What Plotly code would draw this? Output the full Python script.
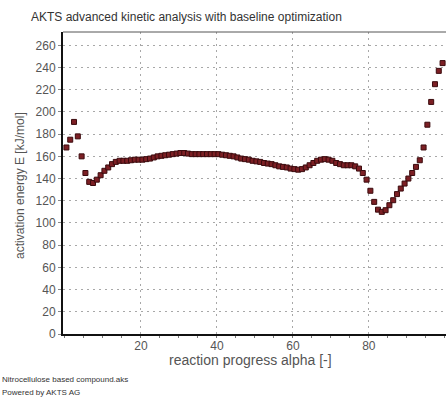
import plotly.graph_objects as go

# Reaction progress (alpha, %) and the activation energy E (kJ/mol) at each step
alpha = [
    0.4, 1.4, 2.4, 3.4, 4.4, 5.4, 6.4, 7.4, 8.4, 9.4,
    10.4, 11.4, 12.4, 13.4, 14.4, 15.4, 16.4, 17.4, 18.4, 19.4,
    20.4, 21.4, 22.4, 23.4, 24.4, 25.4, 26.4, 27.4, 28.4, 29.4,
    30.4, 31.4, 32.4, 33.4, 34.4, 35.4, 36.4, 37.4, 38.4, 39.4,
    40.4, 41.4, 42.4, 43.4, 44.4, 45.4, 46.4, 47.4, 48.4, 49.4,
    50.4, 51.4, 52.4, 53.4, 54.4, 55.4, 56.4, 57.4, 58.4, 59.4,
    60.4, 61.4, 62.4, 63.4, 64.4, 65.4, 66.4, 67.4, 68.4, 69.4,
    70.4, 71.4, 72.4, 73.4, 74.4, 75.4, 76.4, 77.4, 78.4, 79.4,
    80.4, 81.4, 82.4, 83.4, 84.4, 85.4, 86.4, 87.4, 88.4, 89.4,
    90.4, 91.4, 92.4, 93.4, 94.4, 95.4, 96.4, 97.4, 98.4, 99.4,
]
energy = [
    168, 175, 191, 178, 160, 145, 137, 136, 139, 143,
    147, 150, 153, 155, 156, 156, 156, 156.5, 157, 157,
    157, 157.5, 158, 159, 160, 160.5, 161, 161.5, 162, 162.5,
    163, 163, 162.5, 162, 162, 162, 162, 162, 162, 162,
    162, 161.5, 161, 160.5, 160, 159, 158, 157.5, 157, 156,
    155.5, 155, 154, 153.5, 153, 152, 151, 150.5, 150, 149,
    148.5, 148, 148.5, 150, 152, 154, 156, 157, 157.5, 157,
    156, 154, 153, 152, 152, 152, 151, 149, 145, 139,
    129, 119, 112, 110, 111.5, 116, 120.5, 126, 131, 135.5,
    140, 145, 150.5, 156.5, 168, 188.5, 209, 225, 237, 244,
]

x_ticks = [20, 40, 60, 80]
y_ticks = [0, 20, 40, 60, 80, 100, 120, 140, 160, 180, 200, 220, 240, 260]

title_text = "AKTS advanced kinetic analysis with baseline optimization"
x_title = "reaction progress alpha [-]"
y_title = "activation energy E [kJ/mol]"
footer_lines = ["Nitrocellulose based compound.aks", "Powered by AKTS AG"]

font_family = "Liberation Sans, Arial, sans-serif"
grid_style = dict(showgrid=True, gridcolor="#a8a8a8", griddash="2px,4px", gridwidth=1)

fig = go.Figure()
fig.add_trace(go.Scatter(
    x=alpha, y=energy, mode="markers",
    marker=dict(symbol="square", size=5, color="#7c1f24",
                line=dict(color="#3b0b0e", width=1)),
    showlegend=False,
))

fig.update_layout(
    width=446, height=400,
    margin=dict(l=63, r=0, t=32, b=66),
    paper_bgcolor="white", plot_bgcolor="white",
    font=dict(family=font_family, color="#444", size=12),
    xaxis=dict(
        range=[-0.5, 100.3], tickvals=x_ticks, ticktext=[str(v) for v in x_ticks],
        showline=True, linecolor="#111", linewidth=2,
        ticks="", zeroline=False,
        tickfont=dict(size=12, color="#555"),
        minor=dict(dtick=5, ticks="outside", ticklen=2, tickcolor="#777", showgrid=False),
        **grid_style,
    ),
    yaxis=dict(
        range=[0, 272], tickvals=y_ticks, ticktext=[str(v) for v in y_ticks],
        showline=True, linecolor="#111", linewidth=2,
        ticks="outside", ticklen=3, tickcolor="#888",
        zeroline=False,
        tickfont=dict(size=12, color="#555"),
        **grid_style,
    ),
    shapes=[dict(type="line", xref="paper", yref="paper", x0=0, x1=1, y0=1, y1=1,
                 line=dict(color="#555", width=1))],
    annotations=[
        dict(text=title_text, xref="paper", yref="paper", x=-0.09, y=1.0,
             xanchor="left", yanchor="bottom", yshift=6, showarrow=False,
             font=dict(size=12, color="#333")),
        dict(text=x_title, xref="paper", yref="paper", x=0.49, y=0,
             xanchor="center", yanchor="top", yshift=-16, showarrow=False,
             font=dict(size=14, color="#555")),
        dict(text=y_title, xref="paper", yref="paper", x=0, y=0.49,
             xanchor="center", yanchor="middle", xshift=-43, textangle=-90,
             showarrow=False, font=dict(size=12, color="#555")),
        dict(text=footer_lines[0], xref="paper", yref="paper", x=0, y=0,
             xanchor="left", yanchor="middle", xshift=-63, yshift=-45,
             showarrow=False, font=dict(size=8, color="#333")),
        dict(text=footer_lines[1], xref="paper", yref="paper", x=0, y=0,
             xanchor="left", yanchor="middle", xshift=-63, yshift=-58,
             showarrow=False, font=dict(size=8, color="#333")),
    ],
)

fig.write_html("out.html")
